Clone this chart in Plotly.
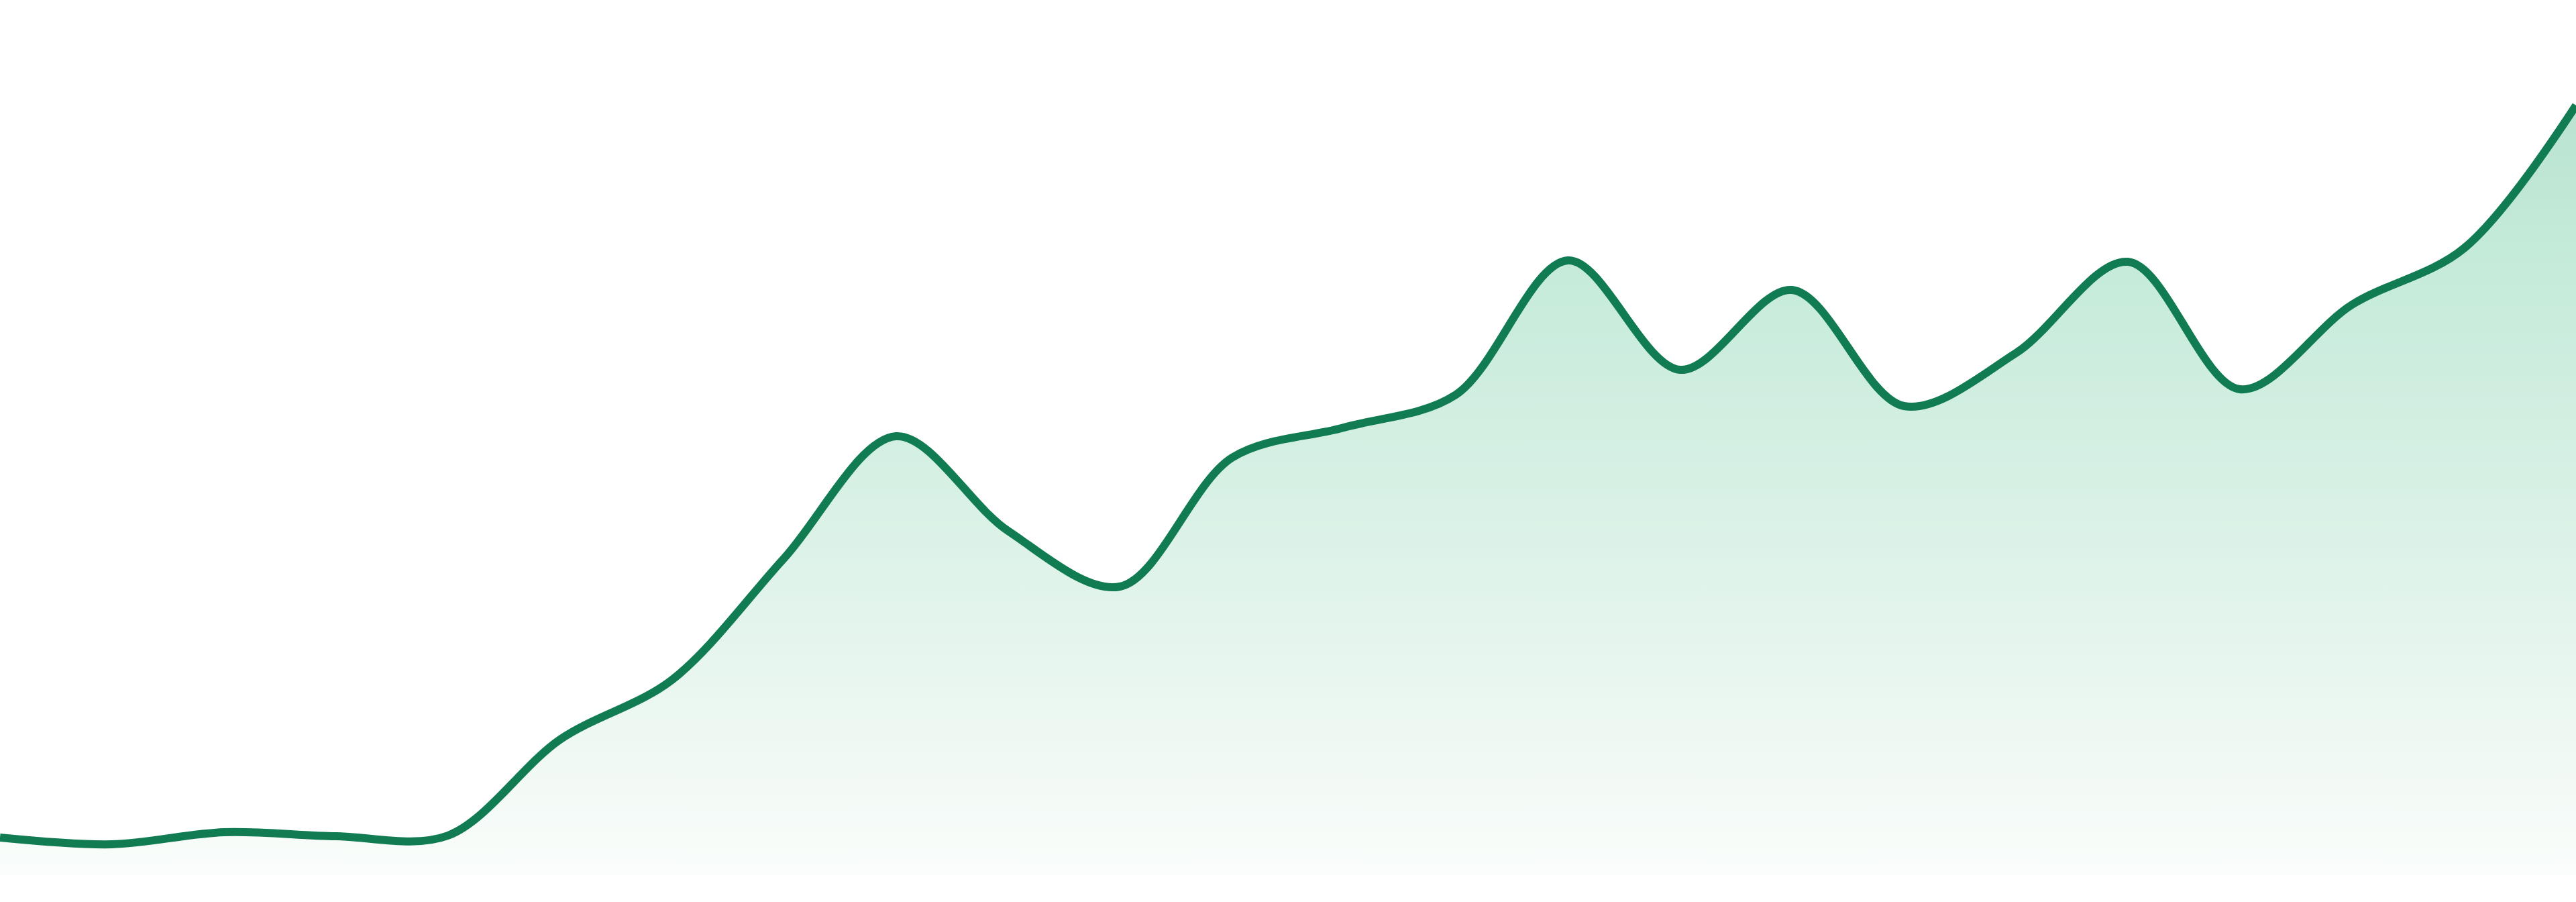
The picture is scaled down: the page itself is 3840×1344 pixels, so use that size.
import plotly.graph_objects as go

# one value per step
steps = list(range(24))
values = [5.6, 4.6, 6.4, 5.8, 5.9, 20.2, 29.1, 47.2, 65.4, 51.3, 43.0, 62.2,
          66.7, 71.6, 91.6, 75.3, 87.2, 69.9, 77.8, 91.4, 72.4, 85.0, 93.4, 114.7]

line_color = '#117b52'
fill_stops = [
    [0.0, 'rgb(250,253,251)'],
    [0.18, 'rgb(238,248,243)'],
    [0.52, 'rgb(214,240,228)'],
    [0.78, 'rgb(198,235,219)'],
    [1.0, 'rgb(186,227,209)'],
]


def main():
    trace = go.Scatter(
        x=steps,
        y=values,
        mode='lines',
        line=dict(color=line_color, width=12, shape='spline', smoothing=0.95),
        fill='tozeroy',
        fillgradient=dict(type='vertical', start=0, stop=max(values),
                          colorscale=fill_stops),
        hoverinfo='skip',
        showlegend=False)

    layout = go.Layout(
        width=3840,
        height=1344,
        margin=dict(l=0, r=0, t=0, b=40),
        paper_bgcolor='white',
        plot_bgcolor='white',
        xaxis=dict(range=[0, 23], visible=False, fixedrange=True),
        yaxis=dict(range=[0, 130.4], visible=False, fixedrange=True),
    )

    fig = go.Figure(data=[trace], layout=layout)
    # page margin would push the chart off the window edges
    fig.write_html('out.html', config={'displayModeBar': False},
                   post_script="document.body.style.margin='0';document.body.style.overflow='hidden';")


if __name__ == '__main__':
    main()
